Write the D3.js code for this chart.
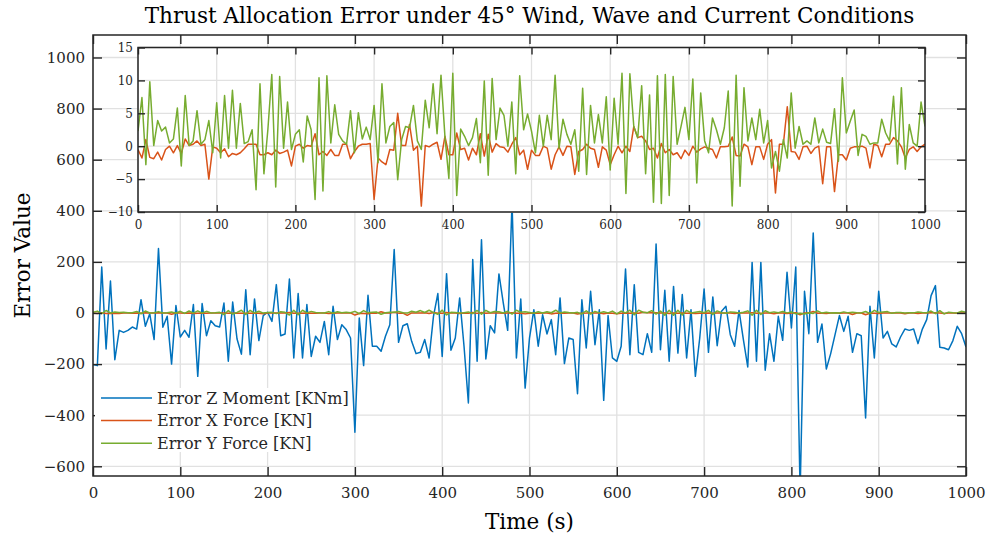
<!DOCTYPE html>
<html>
<head>
<meta charset="utf-8">
<script src="https://cdn.jsdelivr.net/npm/d3@7"></script>
<style>
  body { margin: 0; background: #fff; }
  svg { font-family: "DejaVu Serif", serif; }
</style>
</head>
<body>
<svg id="chart" width="989" height="539"></svg>
<script>
// sample times, every 5 s
const time = d3.range(0, 1001, 5);

// Error Z Moment [KNm]
const errZ = [
  -202, -206, 180, -141, 125, -183, -68, -76, -68, -55, -63, 52, -52, -3, -104, 252, -56, -13, -200, 29,
  -94, -68, -95, 33, -248, 37, -89, -30, -50, -55, 39, -189, 43, -102, -161, 91, -163, 55, -108, -10,
  3, -33, 111, -89, -82, 133, -176, 76, -176, 33, -170, -91, -115, -33, -163, 26, -104, -46, -65, -98,
  -467, -20, -206, 69, -130, -130, -150, -91, -46, 248, -115, -50, -42, -111, -159, -154, -104, -176, -13, 76,
  -170, 154, -146, -98, 59, -130, -352, 209, -189, 287, -180, -50, -78, 153, 39, -68, 430, -176, 55, -294,
  -98, 13, -130, -7, -82, -26, -163, 59, -198, -98, -104, -316, 52, -137, 85, -124, 13, -342, -10, -176,
  -189, -130, 172, -163, 111, -154, -163, -81, -154, 270, -144, 89, -189, 104, -157, 72, -176, 13, -248, -98,
  94, -154, 63, -128, 7, 26, -85, -130, 10, -104, -211, 198, -189, 198, -224, -81, -189, -13, -107, 159,
  -59, 180, -700, 85, -81, 313, -115, -43, -219, -159, -85, -10, -72, -13, -154, -81, -89, -411, 26, -176,
  85, -98, -72, -121, -133, -94, -63, -68, -63, -120, -63, -26, 68, 107, -134, -137, -144, -108, -52, -81, -133
];

// Error X Force [KN]
const errX = [
  -0.5, -1.8, 1.0, -1.7, -1.9, -0.9, -2.1, -0.5, 0, -1.0, 0.1, -1.1, 1.1, 0.1, 0.3, 0.8, 0.1, 0.3, -5.0, -0.1,
  -0.3, -1.0, -0.4, -1.6, -1.1, -1.3, -1.0, -0.4, 0.3, 0.3, 0.3, -1.3, -1.3, -1.0, -1.3, -0.6, -1.1, -0.9, -0.6, -3.0,
  0, 0.3, -0.3, 0.1, 0, 1.9, -1.3, -0.8, -1.4, -0.5, -1.4, -1.4, 0.3, 0.3, -1.9, -0.8, 0, 0.3, 0.3, 0.4,
  -8.1, -1.8, -2.4, -2.8, -0.5, -0.6, 5.0, 0.1, 0.1, 3.3, -0.6, 0, -9.1, 0.1, -0.1, 0.3, 0.6, -2.0, 1.5, -1.3,
  -1.3, 2.0, -0.5, -0.3, -2.1, -0.3, -1.3, 1.9, -1.5, 1.8, -0.9, 0.4, -0.1, -0.2, -0.9, 0.3, 1.3, -1.3, -0.6, -3.5,
  -0.6, -1.4, -1.4, 0, -0.3, -3.5, -1.3, -0.1, -1.4, 0, -0.1, -4.3, -0.8, -0.5, 0.3, -0.3, -0.5, -3.2, -0.1, -0.6,
  -2.8, -1.3, 0, -1.0, 0, -0.8, 3.0, 1.3, 1.5, 0.8, -0.5, -0.3, -1.8, 0.4, -1.0, -0.5, -1.3, -1.0, -1.9, -0.6,
  -1.4, 0, -0.9, -0.4, -0.1, -0.3, -0.5, -1.8, -0.1, -0.1, 0, 1.4, -1.4, -1.5, 0.3, -0.1, -2.8, -0.1, -0.1, -2.0,
  0.3, 1.0, -7.1, 0.3, 0.3, 6.0, -0.8, -0.9, -2.0, -0.1, 0, -1.1, -0.3, 0, -5.7, -0.1, -0.1, -6.9, -1.3, -1.3,
  -2.1, -0.3, -0.1, -0.1, 0, -0.3, -3.3, 0.3, 0.1, -1.6, 0.3, 0.3, 1.3, 0.8, -0.1, -1.8, -0.5, -0.1, -0.8, -0.1, 0.3
];

// Error Y Force [KN]
const errY = [
  2.3, 7.4, -2.8, 9.8, 0.1, 3.9, 2.3, 2.9, 0.5, 1.1, 5.8, -3.0, 7.7, 0.1, 0.8, 5.4, 0.3, 1.0, 3.9, -1.0,
  6.6, -1.8, 7.7, -0.3, 8.5, -0.3, 6.5, 0.4, 0.7, 2.5, -6.6, 9.5, -4.2, 2.5, 10.9, -6.2, 10.6, -0.3, 6.7, -0.5,
  1.8, 2.5, -2.4, 4.6, 2.5, -8.1, 10.4, -6.8, 10.7, 0.5, 6.3, 1.8, 0.8, 0.3, 5.4, -1.0, 5.1, 1.1, 2.9, 1.0,
  6.2, -2.5, 9.5, 0.5, 3.0, 3.6, -5.1, 1.0, 3.0, 2.8, 6.2, 0.8, -0.5, 7.0, 2.8, 9.5, 1.9, 10.8, 1.5, -4.9,
  11.1, -7.5, 2.6, 1.5, 0.1, 1.3, 4.2, -2.5, 9.9, -4.4, 10.3, 1.0, 5.8, 4.7, 0, 6.7, -4.2, 10.7, 2.5, 4.9,
  2.3, -1.0, 4.7, 0, 4.7, 1.0, 10.8, -0.3, 4.1, 1.8, 0.3, 2.5, -3.8, 8.8, -4.3, 6.2, 0.5, 4.8, 0.5, 7.5,
  -3.6, 7.3, 0.3, 11.1, -7.2, 11.0, 3.0, 1.3, 9.2, -4.2, 7.8, -8.5, 10.7, -8.7, 10.9, -7.5, 10.6, 0.3, 3.0, 5.9,
  1.0, 10.2, -5.6, 8.1, 0.8, -1.0, 4.3, 2.5, 0.3, 2.8, 8.4, -9.1, 10.8, -6.1, 8.9, 0.8, 4.3, 1.0, 5.6, 0.5,
  3.9, -3.3, -0.8, -3.8, 1.0, -1.8, 8.1, -0.3, 3.0, 0.3, 0.8, 0.3, 4.3, 0.5, 2.6, 0.6, 0.4, 5.7, -2.3, 10.4,
  2.0, 3.8, 5.5, -1.4, 1.8, 1.5, 0.3, 0.5, 0.5, 4.1, 2.0, 0.8, 7.6, -2.7, 8.9, -3.5, 3.3, 0.5, 0, 6.7, 3.0
];

const seriesNames = ['Error Z Moment [KNm]', 'Error X Force [KN]', 'Error Y Force [KN]'];
const seriesColors = ['#0072BD', '#D95319', '#77AC30'];

const xTicks = d3.range(0, 1001, 100);
const yTicks = [-600, -400, -200, 0, 200, 400, 600, 800, 1000];
const insetYTicks = [-10, -5, 0, 5, 10, 15];

const svg = d3.select('#chart');
const axisColor = '#262626';
const gridColor = '#e1e1e1';

// main axes box
const main = {left: 93, right: 966, top: 35, bottom: 476};
// inset axes box
const inset = {left: 138, right: 925, top: 47.5, bottom: 212};

const x = d3.scaleLinear().domain([0, 1000]).range([main.left, main.right]);
const y = d3.scaleLinear().domain([-638, 1088]).range([main.bottom, main.top]);
const xi = d3.scaleLinear().domain([0, 1000]).range([inset.left, inset.right]);
const yi = d3.scaleLinear().domain([-10, 15]).range([inset.bottom, inset.top]);

const series = [errZ, errX, errY];

function drawPanel(g, xs, ys, box, opt) {
  // background
  g.append('rect')
      .attr('x', box.left).attr('y', box.top)
      .attr('width', box.right - box.left).attr('height', box.bottom - box.top)
      .attr('fill', '#fff');

  // grid
  g.append('g').selectAll('line')
      .data(opt.xTicks)
      .join('line')
      .attr('x1', d => xs(d)).attr('x2', d => xs(d))
      .attr('y1', box.top).attr('y2', box.bottom)
      .attr('stroke', gridColor).attr('stroke-width', 1.3);
  g.append('g').selectAll('line')
      .data(opt.yTicks)
      .join('line')
      .attr('x1', box.left).attr('x2', box.right)
      .attr('y1', d => ys(d)).attr('y2', d => ys(d))
      .attr('stroke', gridColor).attr('stroke-width', 1.3);

  // lines
  const clipId = 'clip-' + opt.name;
  g.append('clipPath').attr('id', clipId)
    .append('rect')
      .attr('x', box.left).attr('y', box.top)
      .attr('width', box.right - box.left).attr('height', box.bottom - box.top);

  const plot = g.append('g').attr('clip-path', `url(#${clipId})`);
  opt.series.forEach(s => {
    const line = d3.line()
        .x((d, i) => xs(time[i]))
        .y(d => ys(d));
    plot.append('path')
        .datum(series[s])
        .attr('fill', 'none')
        .attr('stroke', seriesColors[s])
        .attr('stroke-width', 1.5)
        .attr('stroke-linejoin', 'round')
        .attr('d', line);
  });

  // axes, ticks pointing inward
  const ts = opt.tickSize;
  const fmt = d3.format('d');
  const bottom = g.append('g')
      .attr('transform', `translate(0,${box.bottom})`)
      .call(d3.axisBottom(xs).tickValues(opt.xTicks).tickFormat(fmt)
        .tickSizeInner(-ts).tickSizeOuter(0).tickPadding(opt.xPad));
  const top = g.append('g')
      .attr('transform', `translate(0,${box.top})`)
      .call(d3.axisTop(xs).tickValues(opt.xTicks).tickSizeInner(-ts).tickSizeOuter(0).tickFormat(''));
  const left = g.append('g')
      .attr('transform', `translate(${box.left},0)`)
      .call(d3.axisLeft(ys).tickValues(opt.yTicks).tickFormat(fmt)
        .tickSizeInner(-ts).tickSizeOuter(0).tickPadding(opt.yPad));
  const right = g.append('g')
      .attr('transform', `translate(${box.right},0)`)
      .call(d3.axisRight(ys).tickValues(opt.yTicks).tickSizeInner(-ts).tickSizeOuter(0).tickFormat(''));

  [bottom, top, left, right].forEach(a => {
    a.select('.domain').remove();
    a.selectAll('line').attr('stroke', axisColor).attr('stroke-width', 1.4);
    a.selectAll('text')
        .attr('fill', axisColor)
        .style('font-family', '"DejaVu Serif", serif')
        .style('font-size', opt.fontSize + 'px');
  });

  g.append('rect')
      .attr('x', box.left).attr('y', box.top)
      .attr('width', box.right - box.left).attr('height', box.bottom - box.top)
      .attr('fill', 'none')
      .attr('stroke', axisColor)
      .attr('stroke-width', 1.5);
}

// main panel
const gMain = svg.append('g');
drawPanel(gMain, x, y, main, {
  name: 'main', xTicks: xTicks, yTicks: yTicks, series: [0, 1, 2],
  tickSize: 9, xPad: 11, yPad: 8, fontSize: 15
});

// legend
const legend = svg.append('g');
legend.append('rect')
    .attr('x', 95).attr('y', 388)
    .attr('width', 257).attr('height', 64)
    .attr('fill', '#fff');
seriesNames.forEach((name, i) => {
  const ly = 398 + i * 22.6;
  legend.append('line')
      .attr('x1', 101).attr('x2', 152)
      .attr('y1', ly).attr('y2', ly)
      .attr('stroke', seriesColors[i])
      .attr('stroke-width', 1.5);
  legend.append('text')
      .attr('x', 157).attr('y', ly)
      .attr('dy', '0.35em')
      .attr('fill', axisColor)
      .style('font-size', '16px')
      .text(name);
});

// inset panel
const gInset = svg.append('g');
drawPanel(gInset, xi, yi, inset, {
  name: 'inset', xTicks: xTicks, yTicks: insetYTicks, series: [1, 2],
  tickSize: 7, xPad: 8, yPad: 5, fontSize: 12
});

// title and axis labels
svg.append('text')
    .attr('x', (main.left + main.right) / 2)
    .attr('y', 23)
    .attr('text-anchor', 'middle')
    .attr('fill', '#000')
    .style('font-size', '21.5px')
    .text('Thrust Allocation Error under 45° Wind, Wave and Current Conditions');

svg.append('text')
    .attr('x', (main.left + main.right) / 2)
    .attr('y', 529)
    .attr('text-anchor', 'middle')
    .attr('fill', '#000')
    .style('font-size', '21.5px')
    .text('Time (s)');

svg.append('text')
    .attr('transform', `translate(30,${(main.top + main.bottom) / 2}) rotate(-90)`)
    .attr('text-anchor', 'middle')
    .attr('fill', '#000')
    .style('font-size', '21.5px')
    .text('Error Value');
</script>
</body>
</html>
